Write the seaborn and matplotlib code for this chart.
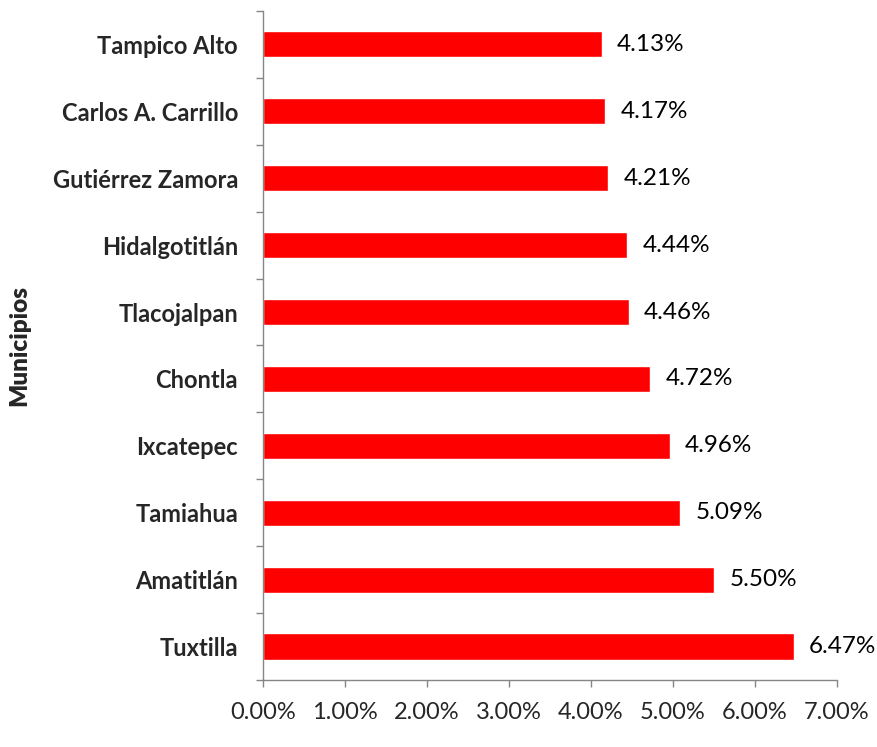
import matplotlib
matplotlib.use("Agg")
import matplotlib.pyplot as plt
import seaborn as sns
import pandas as pd
from matplotlib.ticker import FixedLocator, PercentFormatter

municipios = ["Tampico Alto", "Carlos A. Carrillo", "Gutiérrez Zamora", "Hidalgotitlán",
              "Tlacojalpan", "Chontla", "Ixcatepec", "Tamiahua", "Amatitlán", "Tuxtilla"]
porcentaje = [4.13, 4.17, 4.21, 4.44, 4.46, 4.72, 4.96, 5.09, 5.50, 6.47]

df = pd.DataFrame({"municipio": municipios, "pct": porcentaje})

sns.set_style("white")
plt.rcParams["font.family"] = ["Lato", "DejaVu Sans"]

fig = plt.figure(figsize=(8.77, 7.47), dpi=100)
ax = fig.add_axes([0.2999, 0.0897, 0.6545, 0.8956])

sns.barplot(data=df, x="pct", y="municipio", orient="h", color="#ff0000",
            saturation=1, width=0.39, ax=ax)

# etiquetas de valor
ax.bar_label(ax.containers[0], labels=[f"{v:.2f}%" for v in porcentaje],
             padding=11, fontsize=17.5, color="black")

ax.set_xlim(0, 7)
ax.set_ylim(9.5, -0.5)
ax.set_xticks(range(0, 8))
ax.xaxis.set_major_formatter(PercentFormatter(decimals=2))
ax.tick_params(axis="x", labelsize=17, length=5, width=1, color="#868686",
               direction="out", bottom=True, pad=11)

ax.set_yticks(range(len(municipios)))
ax.set_yticklabels(municipios, fontsize=17, fontweight="bold")
ax.tick_params(axis="y", which="major", length=0, pad=18)
ax.yaxis.set_minor_locator(FixedLocator([i - 0.5 for i in range(len(municipios) + 1)]))
ax.tick_params(axis="y", which="minor", length=5, width=1, color="#868686",
               direction="out", left=True)

ax.set_xlabel("")
ax.set_ylabel("Municipios", fontsize=17.5, fontweight="heavy")
ax.yaxis.set_label_coords(-0.405, 0.5)

for side in ["top", "right"]:
    ax.spines[side].set_visible(False)
for side in ["left", "bottom"]:
    ax.spines[side].set_color("#868686")
    ax.spines[side].set_linewidth(1)

fig.savefig("out.png", dpi=100)
